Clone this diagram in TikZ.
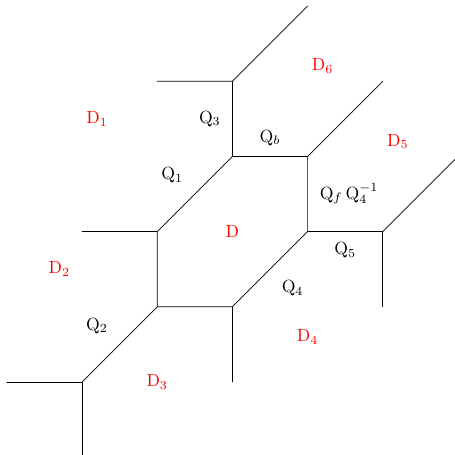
\documentclass[tikz,border=0pt]{standalone}
\usepackage{xcolor}

\begin{document}
\begin{tikzpicture}[
    x=1.5cm,y=1.5cm,
    line cap=round,
    line join=round,
    dom/.style={red},
    lab/.style={black},
]
\useasboundingbox (-0.09,0.03) rectangle (5.95,6.08);
% vertices
\coordinate (a) at (2,3);
\coordinate (b) at (3,4);
\coordinate (c) at (4,4);
\coordinate (d) at (4,3);
\coordinate (e) at (3,2);
\coordinate (f) at (2,2);
\coordinate (b1) at (3,5);
\coordinate (b2) at (2,5);
\coordinate (b3) at (4,6);
\coordinate (c1) at (5,5);
\coordinate (d1) at (5,3);
\coordinate (d2) at (6,4);
\coordinate (d3) at (5,2);
\coordinate (e1) at (3,1);
\coordinate (a1) at (1,3);
\coordinate (f1) at (1,1);
\coordinate (f2) at (0,1);
\coordinate (f3) at (1,0);
% hexagon
\draw (a) -- (b) -- (c) -- (d) -- (e) -- (f) -- cycle;
% outer edges
\draw (b) -- (b1);
\draw (b2) -- (b1) -- (b3);
\draw (c) -- (c1);
\draw (d) -- (d1);
\draw (d1) -- (d2);
\draw (d1) -- (d3);
\draw (e) -- (e1);
\draw (a) -- (a1);
\draw (f) -- (f1);
\draw (f2) -- (f1) -- (f3);
% domains
\node[dom] (D) at (3,3) {D};
\node[dom] (D1) at (1.2,4.5) {D$_1$};
\node[dom] (D2) at (0.7,2.5) {D$_2$};
\node[dom] (D3) at (2,1) {D$_3$};
\node[dom] (D4) at (4,1.6) {D$_4$};
\node[dom] (D5) at (5.2,4.2) {D$_5$};
\node[dom] (D6) at (4.2,5.2) {D$_6$};
% edge labels
\node[lab] (Q1) at (2.2,3.75) {Q$_1$};
\node[lab] (Q2) at (1.2,1.75) {Q$_2$};
\node[lab] (Q3) at (2.7,4.5) {Q$_3$};
\node[lab] (Q4) at (3.8,2.25) {Q$_4$};
\node[lab] (Q5) at (4.5,2.75) {Q$_5$};
\node[lab] (Qb) at (3.5,4.25) {Q$_b$};
\node[lab] (Qf) at (4.55,3.5) {Q$_f\,$Q$_4^{-1}$};
\end{tikzpicture}
\end{document}
